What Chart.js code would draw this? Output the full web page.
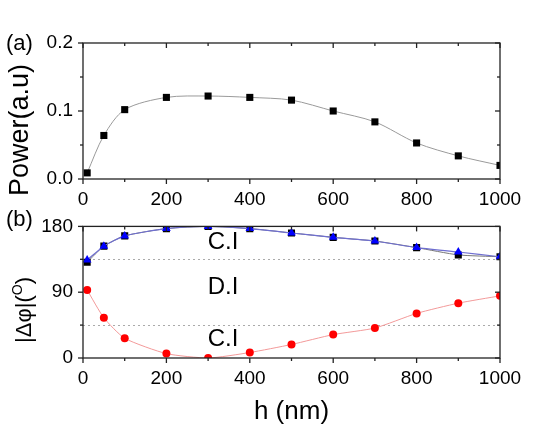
<!DOCTYPE html>
<html>
<head>
<meta charset="utf-8">
<script src="https://cdn.jsdelivr.net/npm/chart.js@4/dist/chart.umd.min.js"></script>
<style>
  body { margin: 0; background: #fff; }
  #wrap { position: relative; width: 556px; height: 427px; }
  canvas { position: absolute; left: 0; }
</style>
</head>
<body>
<div id="wrap">
  <canvas id="power" width="556" height="210" style="top:0"></canvas>
  <canvas id="phase" width="556" height="222" style="top:205px"></canvas>
</div>
<script>
// data
const hValues = [10, 50, 100, 200, 300, 400, 500, 600, 700, 800, 900, 1000];
const power = [0.009, 0.064, 0.102, 0.120, 0.122, 0.120, 0.116, 0.100, 0.084, 0.053, 0.034, 0.020];
const phaseSquare = [131, 153, 167, 177, 180, 177, 171, 165, 160, 151, 141, 138.5];
const phaseTriangle = [134, 153, 167, 177, 180, 177, 171, 165, 160, 151, 145, 138.5];
const phaseCircle = [93, 55, 27, 6, 0, 7.5, 18.5, 32, 41, 61, 75, 85];

const xTicks = [0, 200, 400, 600, 800, 1000];
const powerTicks = [0, 0.1, 0.2];
const phaseTicks = [0, 90, 180];
const regionLines = [45, 135];
const regionLabels = ['C.I', 'D.I', 'C.I'];
const regionLabelY = [158, 97, 25];

const FONT = "Arial, 'Liberation Sans', sans-serif";
Chart.defaults.font.family = FONT;
Chart.defaults.color = '#000';

const toPoints = (ys) => hValues.map((h, i) => ({ x: h, y: ys[i] }));

const minorOf = (t) => {
    const out = [];
    for (let i = 0; i < t.length - 1; i++) out.push((t[i] + t[i + 1]) / 2);
    return out;
};

const line = (ctx, x1, y1, x2, y2) => {
    ctx.beginPath();
    ctx.moveTo(x1, y1);
    ctx.lineTo(x2, y2);
    ctx.stroke();
};

// frame + origin style ticks (out on left/bottom, in on top/right)
const framePlugin = {
    id: 'frame',
    beforeDatasetsDraw(chart, args, o) {
        const { ctx, chartArea: a, scales: { y } } = chart;
        if (!o.dotted) return;
        ctx.save();
        ctx.strokeStyle = '#aaa';
        ctx.lineWidth = 1;
        ctx.setLineDash([2, 3]);
        o.dotted.forEach((v) => {
            const py = Math.round(y.getPixelForValue(v)) + 0.5;
            line(ctx, a.left, py, a.right, py);
        });
        ctx.restore();
    },
    afterDatasetsDraw(chart, args, o) {
        const { ctx, chartArea: a, scales: { x, y } } = chart;
        ctx.save();
        ctx.strokeStyle = '#222';
        ctx.lineWidth = 1.3;
        ctx.strokeRect(a.left, a.top, a.right - a.left, a.bottom - a.top);

        const xt = (list, len) => list.forEach((v) => {
            const px = x.getPixelForValue(v);
            line(ctx, px, a.bottom, px, a.bottom + len);
            line(ctx, px, a.top, px, a.top + len);
        });
        const yt = (list, len) => list.forEach((v) => {
            const py = y.getPixelForValue(v);
            line(ctx, a.left - len, py, a.left, py);
            line(ctx, a.right - len, py, a.right, py);
        });
        xt(xTicks, 5);
        xt(minorOf(xTicks), 3);
        yt(o.yTicks, 5);
        yt(minorOf(o.yTicks), 3);

        // panel letter
        ctx.fillStyle = '#000';
        ctx.font = '22px ' + FONT;
        ctx.textAlign = 'left';
        ctx.textBaseline = 'middle';
        ctx.fillText(o.letter, 6, a.top + o.letterDy);

        // region labels
        if (o.regions) {
            ctx.font = '24px ' + FONT;
            ctx.textAlign = 'center';
            o.regions.forEach((t, i) => {
                ctx.fillText(t, x.getPixelForValue(336), y.getPixelForValue(regionLabelY[i]));
            });
        }
        ctx.restore();
        if (o.titles) o.titles(chart);
    }
};

const xScale = (height) => ({
    type: 'linear',
    min: 0,
    max: 1000,
    grid: { display: false, drawTicks: false },
    border: { display: false },
    ticks: { font: { size: 19 }, color: '#000', padding: 9, maxRotation: 0, callback: (v) => String(v) },
    afterBuildTicks: (s) => { s.ticks = xTicks.map((v) => ({ value: v })); },
    afterFit: (s) => { s.height = height; }
});

const yScale = (ticks, max, fmt) => ({
    min: 0,
    max: max,
    grid: { display: false, drawTicks: false },
    border: { display: false },
    ticks: { font: { size: 19 }, color: '#000', padding: 10, callback: fmt },
    afterBuildTicks: (s) => { s.ticks = ticks.map((v) => ({ value: v })); },
    afterFit: (s) => { s.width = 83; }
});

// (a) power
new Chart(document.getElementById('power').getContext('2d'), {
    type: 'line',
    data: {
        datasets: [{
            data: toPoints(power),
            borderColor: '#9a9a9a',
            borderWidth: 1,
            pointStyle: 'rect',
            pointRadius: 5,
            pointBackgroundColor: '#000',
            pointBorderColor: '#000',
            pointBorderWidth: 0,
            tension: 0.3,
            clip: 0
        }]
    },
    options: {
        responsive: false,
        devicePixelRatio: 1,
        animation: false,
        layout: { padding: { left: 0, right: 56, top: 43, bottom: 0 } },
        plugins: {
            legend: { display: false },
            tooltip: { enabled: false },
            frame: {
                yTicks: powerTicks,
                letter: '(a)',
                letterDy: 1,
                titles: (chart) => {
                    const ctx = chart.ctx;
                    ctx.save();
                    ctx.translate(21, 130);
                    ctx.rotate(-Math.PI / 2);
                    ctx.font = '27px ' + FONT;
                    ctx.fillStyle = '#000';
                    ctx.textAlign = 'center';
                    ctx.textBaseline = 'middle';
                    ctx.fillText('Power(a.u)', 0, 0);
                    ctx.restore();
                }
            }
        },
        scales: {
            x: xScale(31),
            y: yScale(powerTicks, 0.2, (v) => v.toFixed(1))
        }
    },
    plugins: [framePlugin]
});

// (b) phase difference
new Chart(document.getElementById('phase').getContext('2d'), {
    type: 'line',
    data: {
        datasets: [{
            data: toPoints(phaseTriangle),
            borderColor: '#6f6fd0',
            borderWidth: 1.2,
            pointStyle: 'triangle',
            pointRadius: 5,
            pointBackgroundColor: '#0000ff',
            pointBorderColor: '#0000ff',
            pointBorderWidth: 0,
            tension: 0.2,
            clip: 0,
            order: 0
        }, {
            data: toPoints(phaseSquare),
            borderColor: '#777',
            borderWidth: 1,
            pointStyle: 'rect',
            pointRadius: 5,
            pointBackgroundColor: '#000',
            pointBorderColor: '#000',
            pointBorderWidth: 0,
            tension: 0.2,
            clip: 0,
            order: 1
        }, {
            data: toPoints(phaseCircle),
            borderColor: '#f39a9a',
            borderWidth: 1,
            pointStyle: 'circle',
            pointRadius: 4,
            pointBackgroundColor: '#ff0000',
            pointBorderColor: '#ff0000',
            pointBorderWidth: 0,
            tension: 0.2,
            clip: 0,
            order: 2
        }]
    },
    options: {
        responsive: false,
        devicePixelRatio: 1,
        animation: false,
        layout: { padding: { left: 0, right: 56, top: 17, bottom: 0 } },
        plugins: {
            legend: { display: false },
            tooltip: { enabled: false },
            frame: {
                yTicks: phaseTicks,
                letter: '(b)',
                letterDy: -6,
                dotted: regionLines,
                regions: regionLabels,
                titles: (chart) => {
                    const ctx = chart.ctx;
                    const a = chart.chartArea;
                    ctx.save();
                    ctx.fillStyle = '#000';
                    // x title
                    ctx.font = '26px ' + FONT;
                    ctx.textAlign = 'center';
                    ctx.textBaseline = 'middle';
                    ctx.fillText('h (nm)', (a.left + a.right) / 2, 207);
                    // y title with superscript O
                    ctx.translate(25, 105);
                    ctx.rotate(-Math.PI / 2);
                    const main = '22px ' + FONT, sup = '14px ' + FONT;
                    ctx.font = main;
                    const w1 = ctx.measureText('|\u0394\u03c6|(').width;
                    const w3 = ctx.measureText(')').width;
                    ctx.font = sup;
                    const w2 = ctx.measureText('O').width;
                    let px = -(w1 + w2 + w3) / 2;
                    ctx.textAlign = 'left';
                    ctx.font = main;
                    ctx.fillText('|\u0394\u03c6|(', px, 0);
                    px += w1;
                    ctx.font = sup;
                    ctx.fillText('O', px, -7);
                    px += w2;
                    ctx.font = main;
                    ctx.fillText(')', px, 0);
                    ctx.restore();
                }
            }
        },
        scales: {
            x: xScale(69),
            y: yScale(phaseTicks, 180, (v) => String(v))
        }
    },
    plugins: [framePlugin]
});
</script>
</body>
</html>
